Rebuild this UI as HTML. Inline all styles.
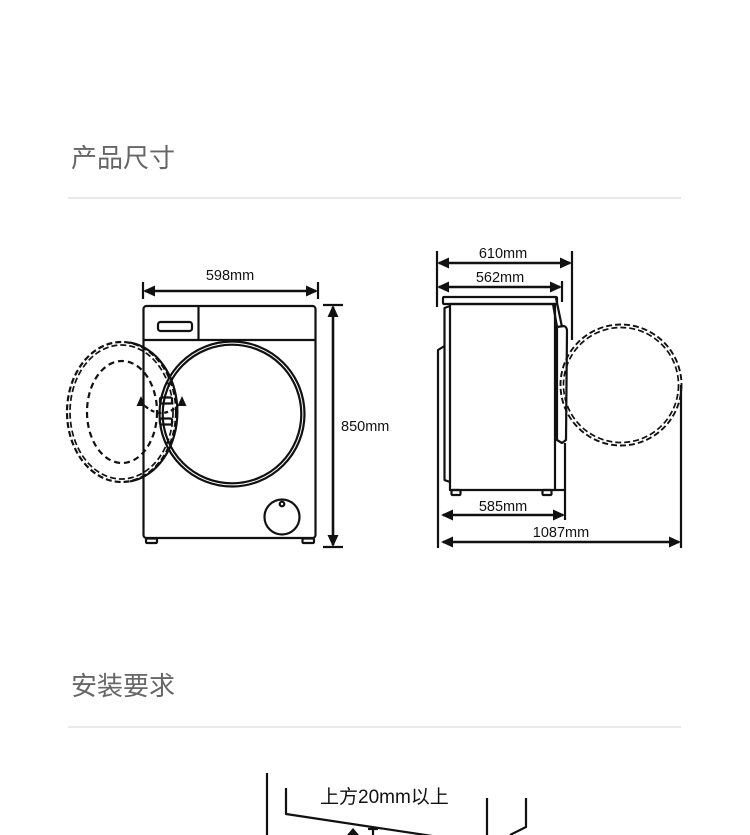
<!DOCTYPE html>
<html><head><meta charset="utf-8"><style>
html,body{margin:0;padding:0;background:#fff;}
svg{display:block;}
.h{font-family:"Liberation Sans","Noto Sans CJK SC",sans-serif;font-size:26px;fill:#666;}
.d{font-family:"Liberation Sans",sans-serif;font-size:14.5px;fill:#111;}
</style></head><body>
<svg width="750" height="835" viewBox="0 0 750 835" xmlns="http://www.w3.org/2000/svg">
<rect width="750" height="835" fill="#fff"/>
<!-- headings -->
<text class="h" x="71" y="167">产品尺寸</text>
<line x1="68" y1="198" x2="681" y2="198" stroke="#e2e2e2" stroke-width="1.5"/>
<text class="h" x="71" y="695">安装要求</text>
<line x1="68" y1="727" x2="681" y2="727" stroke="#e2e2e2" stroke-width="1.5"/>

<g stroke="#111" fill="none" stroke-width="2.2" stroke-linejoin="round">
<!-- FRONT VIEW -->
<ellipse cx="121.5" cy="412" rx="54.5" ry="70" stroke-dasharray="6 3"/>
<ellipse cx="121.5" cy="412" rx="51.5" ry="67" stroke-dasharray="6 3" stroke-width="1.7"/>
<path d="M130 342.6 A54.5 70 0 0 1 130 481.4"/>
<ellipse cx="122" cy="412" rx="35" ry="51" stroke-dasharray="6 4"/>
<path d="M145 406 Q161 420 178 406" stroke-dasharray="4 3"/>
<!-- body -->
<rect x="143.5" y="306" width="172" height="232" rx="3"/>
<line x1="143.5" y1="340" x2="315.5" y2="340"/>
<line x1="198.5" y1="306" x2="198.5" y2="340"/>
<rect x="158" y="322" width="34" height="9" rx="2.5"/>
<circle cx="232" cy="414" r="72.5"/>
<circle cx="232" cy="414" r="69.3"/>
<rect x="160" y="397.5" width="12" height="6" rx="1.5"/>
<rect x="160" y="418.5" width="12" height="6" rx="1.5"/>
<circle cx="282" cy="517" r="17.5"/>
<circle cx="282" cy="504" r="2.3" fill="#fff"/>
<rect x="146" y="538.5" width="11" height="4.5" rx="1"/>
<rect x="302.5" y="538.5" width="11.5" height="4.5" rx="1"/>
<!-- 598 dim -->
<line x1="143" y1="282" x2="143" y2="299"/>
<line x1="318" y1="282" x2="318" y2="299"/>
<line x1="145" y1="291" x2="316" y2="291" stroke-width="2.6"/>
<!-- 850 dim -->
<line x1="323" y1="305" x2="343" y2="305"/>
<line x1="323" y1="547" x2="343" y2="547"/>
<line x1="333" y1="307" x2="333" y2="545" stroke-width="2.6"/>

<!-- SIDE VIEW -->
<rect x="450" y="304" width="105" height="186"/>
<rect x="443" y="297" width="114" height="7" rx="1"/>
<path d="M450 306 L444.5 308 L444.5 480 L450 482"/>
<path d="M444.5 346 L438 350 L438 548"/>
<path d="M556 298 L562 327 M553 304 L557 327"/>
<path d="M557 327 L564 326 Q567 327 567 331 L566 440 L562 443 L557 440 Z"/>
<line x1="555" y1="490" x2="565" y2="490"/>
<line x1="565" y1="443" x2="565" y2="520"/>
<rect x="451.5" y="490" width="9" height="5" rx="1"/>
<rect x="542.5" y="490" width="9" height="5" rx="1"/>
<circle cx="621" cy="385" r="60.5" stroke-dasharray="6 3" stroke-width="1.9"/>
<circle cx="621" cy="385" r="57.5" stroke-dasharray="6 3" stroke-width="1.7"/>
<!-- 610 / 562 -->
<line x1="437" y1="251" x2="437" y2="307"/>
<line x1="572" y1="251" x2="572" y2="340"/>
<line x1="562" y1="281" x2="562" y2="302"/>
<line x1="439" y1="263" x2="570" y2="263" stroke-width="2.6"/>
<line x1="439" y1="287" x2="560" y2="287" stroke-width="2.6"/>
<!-- 585 / 1087 -->
<line x1="443" y1="515" x2="563" y2="515" stroke-width="2.6"/>
<line x1="681" y1="385" x2="681" y2="548"/>
<line x1="443" y1="542" x2="679" y2="542" stroke-width="2.6"/>

<!-- bottom install diagram -->
<line x1="267" y1="773" x2="267" y2="835"/>
<path d="M286 788 L286 814 L432 836"/>
<line x1="373" y1="829" x2="373" y2="835"/>
<line x1="368" y1="829" x2="378" y2="829"/>
<line x1="487" y1="798" x2="487" y2="835"/>
<path d="M526 798 L526 827 L510 835"/>
</g>

<!-- arrowheads -->
<g fill="#111">
<polygon points="143,291 155,285.5 155,296.5"/>
<polygon points="318,291 306,285.5 306,296.5"/>
<polygon points="333,305 327.5,317 338.5,317"/>
<polygon points="333,547 327.5,535 338.5,535"/>
<polygon points="437,263 449,257.5 449,268.5"/>
<polygon points="572,263 560,257.5 560,268.5"/>
<polygon points="437,287 449,281.5 449,292.5"/>
<polygon points="562,287 550,281.5 550,292.5"/>
<polygon points="441,515 453,509.5 453,520.5"/>
<polygon points="565,515 553,509.5 553,520.5"/>
<polygon points="441,542 453,536.5 453,547.5"/>
<polygon points="681,542 669,536.5 669,547.5"/>
<polygon points="141,396 136.5,406 145.5,406"/>
<polygon points="182,396 177.5,406 186.5,406"/>
<polygon points="353,828 347,835 359,835"/>
</g>

<!-- labels -->
<text class="d" x="230" y="280" text-anchor="middle">598mm</text>
<text class="d" x="341" y="431">850mm</text>
<text class="d" x="503" y="258" text-anchor="middle">610mm</text>
<text class="d" x="500" y="282" text-anchor="middle">562mm</text>
<text class="d" x="503" y="511" text-anchor="middle">585mm</text>
<text class="d" x="561" y="537" text-anchor="middle">1087mm</text>
<text x="320" y="803" style="font-family:'Liberation Sans','Noto Sans CJK SC',sans-serif;font-size:19px;fill:#111;">上方20mm以上</text>
</svg>
</body></html>
